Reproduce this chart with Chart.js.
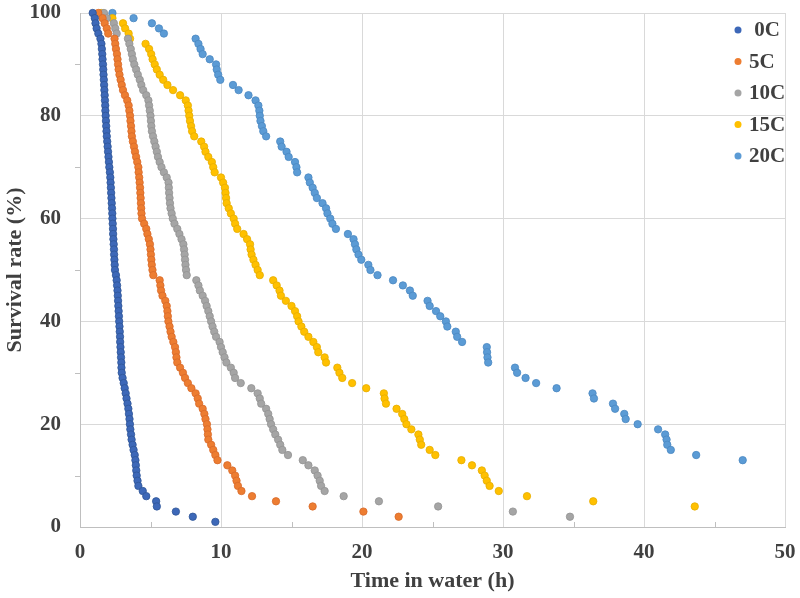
<!DOCTYPE html>
<html>
<head>
<meta charset="utf-8">
<title>Survival rate vs time in water</title>
<script src="https://cdn.jsdelivr.net/npm/chart.js@4/dist/chart.umd.min.js"></script>
<style>
  html, body { margin: 0; padding: 0; background: #ffffff; }
  #wrap { width: 800px; height: 598px; }
</style>
</head>
<body>
<div id="wrap"><canvas id="survivalChart" width="800" height="598"></canvas></div>
<script>
// Survival levels (%), one per fish lost, read top to bottom
const survival = [100, 99, 98, 97, 96, 95, 94, 93, 92, 91, 90, 89, 88, 87, 86, 85, 84, 83, 82, 81,
    80, 79, 78, 77, 76, 75, 74, 73, 72, 71, 70, 69, 68, 67, 66, 65, 64, 63, 62, 61,
    60, 59, 58, 57, 56, 55, 54, 53, 52, 51, 50, 49, 48, 47, 46, 45, 44, 43, 42, 41,
    40, 39, 38, 37, 36, 35, 34, 33, 32, 31, 30, 29, 28, 27, 26, 25, 24, 23, 22, 21,
    20, 19, 18, 17, 16, 15, 14, 13, 12, 11, 10, 9, 8, 7, 6, 5, 4, 3, 2, 1];

// Time in water (h) at each survival level above
const time0C = [0.9, 1.05, 1.1, 1.18, 1.3, 1.45, 1.52, 1.55, 1.58, 1.6, 1.63, 1.65, 1.67, 1.69, 1.71, 1.73, 1.75, 1.77, 1.79, 1.8,
    1.82, 1.84, 1.86, 1.88, 1.9, 1.93, 1.96, 1.99, 2.02, 2.05, 2.08, 2.12, 2.15, 2.17, 2.19, 2.21, 2.23, 2.25, 2.27, 2.29,
    2.3, 2.32, 2.34, 2.35, 2.37, 2.39, 2.41, 2.42, 2.44, 2.46, 2.48, 2.55, 2.6, 2.63, 2.66, 2.68, 2.7, 2.72, 2.74, 2.76,
    2.78, 2.8, 2.82, 2.84, 2.85, 2.87, 2.89, 2.91, 2.93, 2.94, 2.96, 3.02, 3.1, 3.17, 3.24, 3.3, 3.37, 3.43, 3.47, 3.51,
    3.54, 3.57, 3.62, 3.66, 3.73, 3.8, 3.88, 3.93, 3.96, 3.99, 4.02, 4.08, 4.14, 4.45, 4.7, 5.4, 5.45, 6.8, 8.0, 9.6];
const time5C = [1.3, 1.6, 1.75, 1.9, 2.0, 2.45, 2.5, 2.55, 2.62, 2.66, 2.7, 2.74, 2.8, 2.88, 2.96, 3.05, 3.19, 3.35, 3.45, 3.5,
    3.55, 3.58, 3.62, 3.65, 3.68, 3.75, 3.83, 3.9, 3.98, 4.06, 4.14, 4.16, 4.2, 4.23, 4.26, 4.28, 4.3, 4.32, 4.34, 4.36,
    4.4, 4.55, 4.7, 4.78, 4.88, 4.96, 5.0, 5.03, 5.06, 5.09, 5.14, 5.2, 5.65, 5.7, 5.75, 5.85, 6.05, 6.15, 6.2, 6.23,
    6.27, 6.35, 6.42, 6.5, 6.62, 6.74, 6.8, 6.84, 6.9, 7.1, 7.3, 7.45, 7.65, 7.9, 8.2, 8.35, 8.45, 8.7, 8.82, 8.9,
    9.0, 9.04, 9.07, 9.1, 9.3, 9.45, 9.6, 9.75, 10.45, 10.8, 11.0, 11.1, 11.2, 11.45, 12.2, 13.9, 16.5, 20.1, 22.6];
const time10C = [1.7, 1.9, 2.4, 2.5, 2.6, 3.4, 3.5, 3.6, 3.68, 3.75, 3.85, 3.98, 4.1, 4.24, 4.35, 4.48, 4.7, 4.85, 4.9, 4.95,
    5.0, 5.03, 5.06, 5.1, 5.18, 5.27, 5.36, 5.45, 5.53, 5.65, 5.78, 5.95, 6.15, 6.28, 6.3, 6.32, 6.35, 6.38, 6.42, 6.5,
    6.58, 6.7, 6.9, 7.05, 7.2, 7.33, 7.38, 7.42, 7.45, 7.48, 7.52, 7.57, 8.25, 8.4, 8.5, 8.7, 8.87, 8.98, 9.1, 9.2,
    9.3, 9.4, 9.52, 9.65, 9.9, 10.0, 10.12, 10.25, 10.38, 10.7, 10.9, 11.0, 11.4, 12.15, 12.6, 12.75, 12.85, 13.2, 13.35, 13.45,
    13.55, 13.7, 13.85, 14.05, 14.2, 14.35, 14.75, 15.8, 16.2, 16.65, 16.85, 17.0, 17.1, 17.35, 18.7, 21.2, 25.4, 30.7, 34.75];
const time15C = [1.5, 2.3, 3.05, 3.2, 3.45, 3.55, 4.65, 4.9, 5.05, 5.15, 5.3, 5.45, 5.65, 5.9, 6.2, 6.6, 7.1, 7.5, 7.65, 7.7,
    7.75, 7.8, 7.88, 7.95, 8.1, 8.6, 8.8, 8.9, 9.1, 9.35, 9.45, 9.55, 10.0, 10.15, 10.28, 10.32, 10.36, 10.4, 10.55, 10.7,
    10.9, 11.0, 11.15, 11.6, 11.85, 12.06, 12.1, 12.17, 12.3, 12.45, 12.6, 12.75, 13.7, 13.95, 14.15, 14.25, 14.6, 15.0, 15.25, 15.4,
    15.5, 15.7, 15.9, 16.2, 16.55, 16.8, 16.9, 17.35, 17.45, 18.25, 18.4, 18.6, 19.3, 20.3, 21.55, 21.6, 21.7, 22.45, 22.85, 23.0,
    23.15, 23.5, 24.0, 24.1, 24.2, 24.8, 25.2, 27.05, 27.8, 28.5, 28.7, 28.85, 29.05, 29.7, 31.7, 36.4, 43.6];
const time20C = [2.3, 3.8, 5.1, 5.6, 5.95, 8.2, 8.4, 8.55, 8.7, 9.2, 9.65, 9.7, 9.8, 9.95, 10.85, 11.25, 11.95, 12.45, 12.65, 12.72,
    12.75, 12.8, 12.9, 13.0, 13.2, 14.2, 14.3, 14.65, 14.8, 15.25, 15.35, 15.4, 16.2, 16.3, 16.5, 16.65, 16.8, 17.2, 17.45, 17.55,
    17.75, 17.9, 18.15, 19.0, 19.4, 19.5, 19.6, 19.75, 19.95, 20.45, 20.6, 21.1, 22.2, 22.9, 23.4, 23.6, 24.65, 24.8, 25.25, 25.55,
    25.95, 26.05, 26.65, 26.75, 27.1, 28.85, 28.87, 28.9, 28.95, 30.85, 31.0, 31.6, 32.35, 33.8, 36.35, 36.45, 37.8, 37.95, 38.6, 38.7,
    39.55, 41.0, 41.5, 41.6, 41.65, 41.9, 43.7, 47.0];

const seriesLabels = [' 0C', '5C', '10C', '15C', '20C'];
const seriesTimes = [time0C, time5C, time10C, time15C, time20C];
const seriesColors = ['#3d68b8', '#ed7d31', '#a5a5a5', '#ffc000', '#5b9bd5'];
const seriesEdges = ['#2f5597', '#d8692a', '#939393', '#e6ad00', '#4a88c2'];

const timeTicks = [0, 10, 20, 30, 40, 50];
const rateTicks = [0, 20, 40, 60, 80, 100];
const minorTimeTicks = [5, 15, 25, 35, 45];
const minorRateTicks = [10, 30, 50, 70, 90];

const textColor = '#404040';
const gridColor = '#d9d9d9';
const axisColor = '#bfbfbf';
const serif = "'Liberation Serif', 'Times New Roman', serif";

// Legend drawn inside the plot, top right, like the original
const insideLegend = {
    id: 'insideLegend',
    afterDraw(chart) {
        const { ctx, chartArea } = chart;
        ctx.save();
        ctx.font = `bold 21px ${serif}`;
        ctx.textBaseline = 'middle';
        ctx.textAlign = 'left';
        chart.data.datasets.forEach((ds, i) => {
            const y = chartArea.top + 17 + i * 31.5;
            const x = chartArea.right - 47;
            ctx.fillStyle = ds.backgroundColor;
            ctx.beginPath();
            ctx.arc(x, y, 3.5, 0, Math.PI * 2);
            ctx.fill();
            ctx.fillStyle = textColor;
            ctx.fillText(ds.label, x + 11, y + 1);
        });
        ctx.restore();
    }
};

// Small minor tick marks on both axes
const minorTicks = {
    id: 'minorTicks',
    afterDraw(chart) {
        const { ctx, chartArea, scales } = chart;
        ctx.save();
        ctx.strokeStyle = axisColor;
        ctx.lineWidth = 1;
        ctx.beginPath();
        minorTimeTicks.forEach(v => {
            const x = Math.round(scales.x.getPixelForValue(v)) + 0.5;
            ctx.moveTo(x, chartArea.bottom);
            ctx.lineTo(x, chartArea.bottom - 5);
        });
        minorRateTicks.forEach(v => {
            const y = Math.round(scales.y.getPixelForValue(v)) + 0.5;
            ctx.moveTo(chartArea.left, y);
            ctx.lineTo(chartArea.left - 5, y);
        });
        ctx.stroke();
        ctx.restore();
    }
};

const ctx = document.getElementById('survivalChart');
new Chart(ctx, {
    type: 'scatter',
    data: {
        datasets: seriesLabels.map((label, i) => ({
            label: label,
            data: seriesTimes[i].map((t, j) => ({ x: t, y: survival[j] })),
            backgroundColor: seriesColors[i],
            borderColor: seriesEdges[i],
            borderWidth: 0.8,
            pointRadius: 3.7,
            pointHoverRadius: 3.7,
            clip: false
        }))
    },
    options: {
        responsive: false,
        animation: false,
        layout: { padding: { top: 13, right: 15, left: 0, bottom: 0 } },
        plugins: {
            legend: { display: false },
            tooltip: { enabled: false }
        },
        scales: {
            x: {
                type: 'linear',
                min: 0,
                max: 50,
                afterBuildTicks: scale => { scale.ticks = timeTicks.map(v => ({ value: v })); },
                afterFit: scale => {
                    scale.height = 71;
                    scale.paddingLeft = 0;
                    scale.paddingRight = 0;
                },
                ticks: {
                    color: textColor,
                    font: { family: serif, size: 21, weight: 'bold' },
                    padding: 13,
                    maxRotation: 0
                },
                grid: { color: gridColor, drawTicks: false },
                border: { color: axisColor },
                title: {
                    display: true,
                    text: 'Time in water (h)',
                    color: textColor,
                    font: { family: serif, size: 22, weight: 'bold' },
                    padding: { top: 3, bottom: 3 }
                }
            },
            y: {
                type: 'linear',
                min: 0,
                max: 100,
                afterBuildTicks: scale => { scale.ticks = rateTicks.map(v => ({ value: v })); },
                afterFit: scale => {
                    scale.width = 80;
                    scale.paddingTop = 0;
                    scale.paddingBottom = 0;
                },
                ticks: {
                    color: textColor,
                    font: { family: serif, size: 21, weight: 'bold' },
                    padding: 19
                },
                grid: { color: gridColor, drawTicks: false },
                border: { color: axisColor },
                title: {
                    display: true,
                    text: 'Survival rate (%)',
                    color: textColor,
                    font: { family: serif, size: 22, weight: 'bold' },
                    padding: { top: 2, bottom: 2 }
                }
            }
        }
    },
    plugins: [insideLegend, minorTicks]
});
</script>
</body>
</html>
